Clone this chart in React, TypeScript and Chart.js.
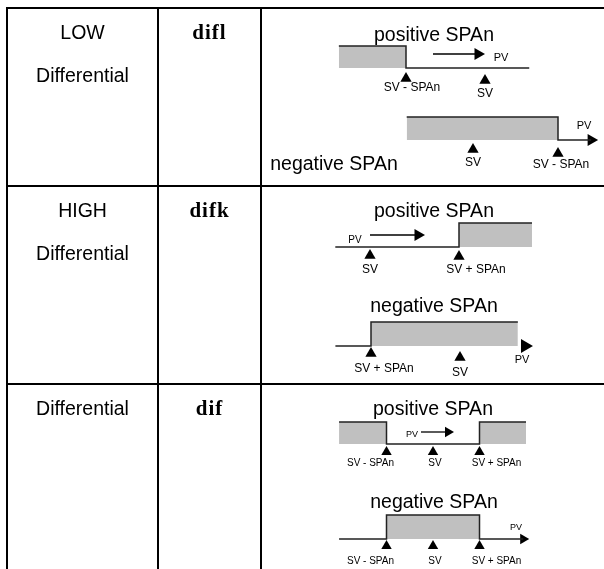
import React, { useEffect, useRef } from 'react';
import { Chart, registerables } from 'chart.js';

Chart.register(...registerables);

// ---------------- data ----------------
const modeNames = [['LOW', 'Differential'], ['HIGH', 'Differential'], ['Differential']];
const modeCodes = ['difl', 'difk', 'dif'];
const diagramTitles = ['positive SPAn', 'negative SPAn', 'positive SPAn', 'negative SPAn', 'positive SPAn', 'negative SPAn'];

const SV = 50;
const SPAN = 10;

// output curves: process value (PV) and output state (1 = output ON, shaded)
const lowPosPV = [31.5, 40, 40, 55.6];
const lowPosOut = [1, 1, 0, 0];
const lowNegPV = [42.2, 60, 60, 63.9];
const lowNegOut = [1, 1, 0, 0];
const highPosPV = [46.1, 60, 60, 68.2];
const highPosOut = [0, 0, 1, 1];
const highNegPV = [36.0, 40, 40, 56.5];
const highNegOut = [0, 0, 1, 1];
const difPosPV = [29.8, 40, 40, 60, 60, 70.0];
const difPosOut = [1, 1, 0, 0, 1, 1];
const difNegPV = [29.8, 40, 40, 60, 60, 69.4];
const difNegOut = [0, 0, 1, 1, 0, 0];

// PV axis arrow head (end of the PV axis), null when none
const pvAxisEnd = [null, 63.9, null, 57.3, null, 69.4];

// markers on the PV axis
const lowPosMarks = [SV - SPAN, SV];
const lowPosMarkLabels = ['SV - SPAn', 'SV'];
const lowNegMarks = [SV, SV + SPAN];
const lowNegMarkLabels = ['SV', 'SV - SPAn'];
const highPosMarks = [SV, SV + SPAN];
const highPosMarkLabels = ['SV', 'SV + SPAn'];
const highNegMarks = [SV - SPAN, SV];
const highNegMarkLabels = ['SV + SPAn', 'SV'];
const difPosMarks = [SV - SPAN, SV, SV + SPAN];
const difPosMarkLabels = ['SV - SPAn', 'SV', 'SV + SPAn'];
const difNegMarks = [SV - SPAN, SV, SV + SPAN];
const difNegMarkLabels = ['SV - SPAn', 'SV', 'SV + SPAn'];

// ---------------- layout (page pixels) ----------------
const W = 604;
const H = 569;
const colEdges = [7, 158, 261];
const rowEdges = [8, 186, 384];
const nameBaselines = [[38.5, 82], [217, 260], [414.5]];
const codeBaselines = [38.5, 217, 414.5];
const SANS = "'Liberation Sans', Arial, sans-serif";
const SERIF = "'Liberation Serif', 'Times New Roman', serif";

type Lay = {
  svPx: number; k: number; base: number; top: number;
  title: [number, number];
  pvLabel: [number, number, number];
  arrow: [number, number, number] | null; // y, tail x, head centre x
  headR: number; markR: number;
  markApex: number[]; labY: number[]; labDx: number[]; labFont: number;
};

const layouts: Lay[] = [
  { svPx: 485, k: 7.9, base: 68, top: 46, title: [434, 41], pvLabel: [501, 58, 11], arrow: [54, 433, 478], headR: 7, markR: 6.5, markApex: [72, 74], labY: [88, 94], labDx: [6, 0], labFont: 12 },
  { svPx: 473, k: 8.5, base: 140, top: 117, title: [334, 170], pvLabel: [584, 126, 11], arrow: null, headR: 7, markR: 6.5, markApex: [143, 147], labY: [163, 165], labDx: [0, 3], labFont: 12 },
  { svPx: 370, k: 8.9, base: 247, top: 223, title: [434, 217], pvLabel: [355, 240, 10], arrow: [235, 370, 418], headR: 7, markR: 6.5, markApex: [249, 250], labY: [270, 270], labDx: [0, 17], labFont: 12 },
  { svPx: 460, k: 8.9, base: 346, top: 322, title: [434, 312], pvLabel: [522, 360, 11], arrow: null, headR: 8, markR: 6.5, markApex: [347, 351], labY: [369, 373], labDx: [13, 0], labFont: 12 },
  { svPx: 433, k: 4.65, base: 444, top: 422, title: [433, 415], pvLabel: [412, 435, 9], arrow: [432, 421, 448], headR: 6, markR: 6, markApex: [446, 446, 446], labY: [463, 463, 463], labDx: [-16, 2, 17], labFont: 10 },
  { svPx: 433, k: 4.65, base: 539, top: 515, title: [434, 508], pvLabel: [516, 528, 9], arrow: null, headR: 6, markR: 6, markApex: [540, 540, 540], labY: [561, 561, 561], labDx: [-16, 2, 17], labFont: 10 },
];

const curves = [
  { pv: lowPosPV, out: lowPosOut, marks: lowPosMarks, labels: lowPosMarkLabels },
  { pv: lowNegPV, out: lowNegOut, marks: lowNegMarks, labels: lowNegMarkLabels },
  { pv: highPosPV, out: highPosOut, marks: highPosMarks, labels: highPosMarkLabels },
  { pv: highNegPV, out: highNegOut, marks: highNegMarks, labels: highNegMarkLabels },
  { pv: difPosPV, out: difPosOut, marks: difPosMarks, labels: difPosMarkLabels },
  { pv: difNegPV, out: difNegOut, marks: difNegMarks, labels: difNegMarkLabels },
];

function buildConfig(): any {
  const scales: any = {
    x: { type: 'linear', display: false },
    y: { type: 'linear', display: false },
  };
  const datasets: any[] = [];
  layouts.forEach((L, i) => {
    const h = L.base - L.top;
    scales[`x${i}`] = {
      type: 'linear', axis: 'x', display: false, bounds: 'data',
      min: SV - L.svPx / L.k, max: SV + (W - L.svPx) / L.k,
    };
    scales[`y${i}`] = {
      type: 'linear', axis: 'y', display: false, bounds: 'data',
      min: -(H - L.base) / h, max: L.base / h,
    };
    const pvOf = (px: number) => SV + (px - L.svPx) / L.k;
    const stateOf = (py: number) => (L.base - py) / h;
    const c = curves[i];
    const common = { xAxisID: `x${i}`, yAxisID: `y${i}` };

    // output curve with shaded ON region
    datasets.push({
      ...common,
      data: c.pv.map((x, j) => ({ x, y: c.out[j] })),
      borderColor: '#222',
      borderWidth: 1.5,
      backgroundColor: '#c0c0c0',
      fill: { value: 0 },
      pointRadius: 0,
      tension: 0,
    });
    // PV axis arrow head
    const end = pvAxisEnd[i];
    if (end !== null) {
      datasets.push({
        ...common,
        data: [{ x: end, y: 0 }],
        showLine: false,
        pointStyle: 'triangle',
        pointRotation: 90,
        pointRadius: L.headR,
        pointBackgroundColor: '#000',
        pointBorderWidth: 0,
      });
    }
    // direction arrow "PV -->"
    if (L.arrow) {
      const [ay, ax0, ax1] = L.arrow;
      datasets.push({
        ...common,
        data: [{ x: pvOf(ax0), y: stateOf(ay) }, { x: pvOf(ax1), y: stateOf(ay) }],
        borderColor: '#000',
        borderWidth: 1.3,
        fill: false,
        pointStyle: 'triangle',
        pointRotation: 90,
        pointRadius: [0, L.headR],
        pointBackgroundColor: '#000',
        pointBorderWidth: 0,
      });
    }
    // markers
    datasets.push({
      ...common,
      data: c.marks.map((m, j) => ({ x: m, y: stateOf(L.markApex[j] + L.markR) })),
      showLine: false,
      pointStyle: 'triangle',
      pointRadius: L.markR,
      pointBackgroundColor: '#000',
      pointBorderWidth: 0,
    });
  });

  const textPlugin = {
    id: 'tableText',
    beforeDatasetsDraw(chart: any) {
      const ctx = chart.ctx;
      ctx.save();
      ctx.strokeStyle = '#000';
      ctx.lineWidth = 2;
      ctx.beginPath();
      rowEdges.forEach((y) => { ctx.moveTo(colEdges[0] - 1, y); ctx.lineTo(W, y); });
      colEdges.forEach((x) => { ctx.moveTo(x, rowEdges[0] - 1); ctx.lineTo(x, H); });
      ctx.stroke();
      ctx.restore();
    },
    afterDatasetsDraw(chart: any) {
      const ctx = chart.ctx;
      ctx.save();
      ctx.fillStyle = '#000';
      ctx.textAlign = 'center';
      ctx.textBaseline = 'alphabetic';
      const c1 = (colEdges[0] + colEdges[1]) / 2;
      const c2 = (colEdges[1] + colEdges[2]) / 2;
      ctx.font = `19.5px ${SANS}`;
      modeNames.forEach((lines, r) => {
        lines.forEach((t, j) => ctx.fillText(t, c1, nameBaselines[r][j]));
      });
      ctx.font = `bold 21px ${SERIF}`;
      (ctx as any).letterSpacing = '1px';
      modeCodes.forEach((t, r) => ctx.fillText(t, c2, codeBaselines[r]));
      (ctx as any).letterSpacing = '0px';

      layouts.forEach((L, i) => {
        ctx.font = `19.5px ${SANS}`;
        ctx.textBaseline = 'alphabetic';
        ctx.fillText(diagramTitles[i], L.title[0], L.title[1]);
        ctx.textBaseline = 'middle';
        ctx.font = `${L.pvLabel[2]}px ${SANS}`;
        ctx.fillText('PV', L.pvLabel[0], L.pvLabel[1]);
        const xs = chart.scales[`x${i}`];
        ctx.font = `${L.labFont}px ${SANS}`;
        curves[i].marks.forEach((m, j) => {
          ctx.fillText(curves[i].labels[j], xs.getPixelForValue(m) + L.labDx[j], L.labY[j]);
        });
      });
      ctx.restore();
    },
  };

  return {
    type: 'line',
    data: { datasets },
    options: {
      animation: false,
      responsive: false,
      maintainAspectRatio: false,
      devicePixelRatio: 1,
      layout: { padding: 0, autoPadding: false },
      events: [],
      plugins: { legend: { display: false }, tooltip: { enabled: false }, title: { display: false } },
      scales,
    },
    plugins: [textPlugin],
  };
}

export default function App() {
  const ref = useRef<HTMLCanvasElement>(null);
  useEffect(() => {
    if (!ref.current) return;
    const chart = new Chart(ref.current, buildConfig());
    return () => chart.destroy();
  }, []);
  return (
    <div style={{ position: 'absolute', left: 0, top: 0, width: W, height: H, background: '#fff' }}>
      <canvas ref={ref} width={W} height={H} style={{ display: 'block' }} />
    </div>
  );
}
